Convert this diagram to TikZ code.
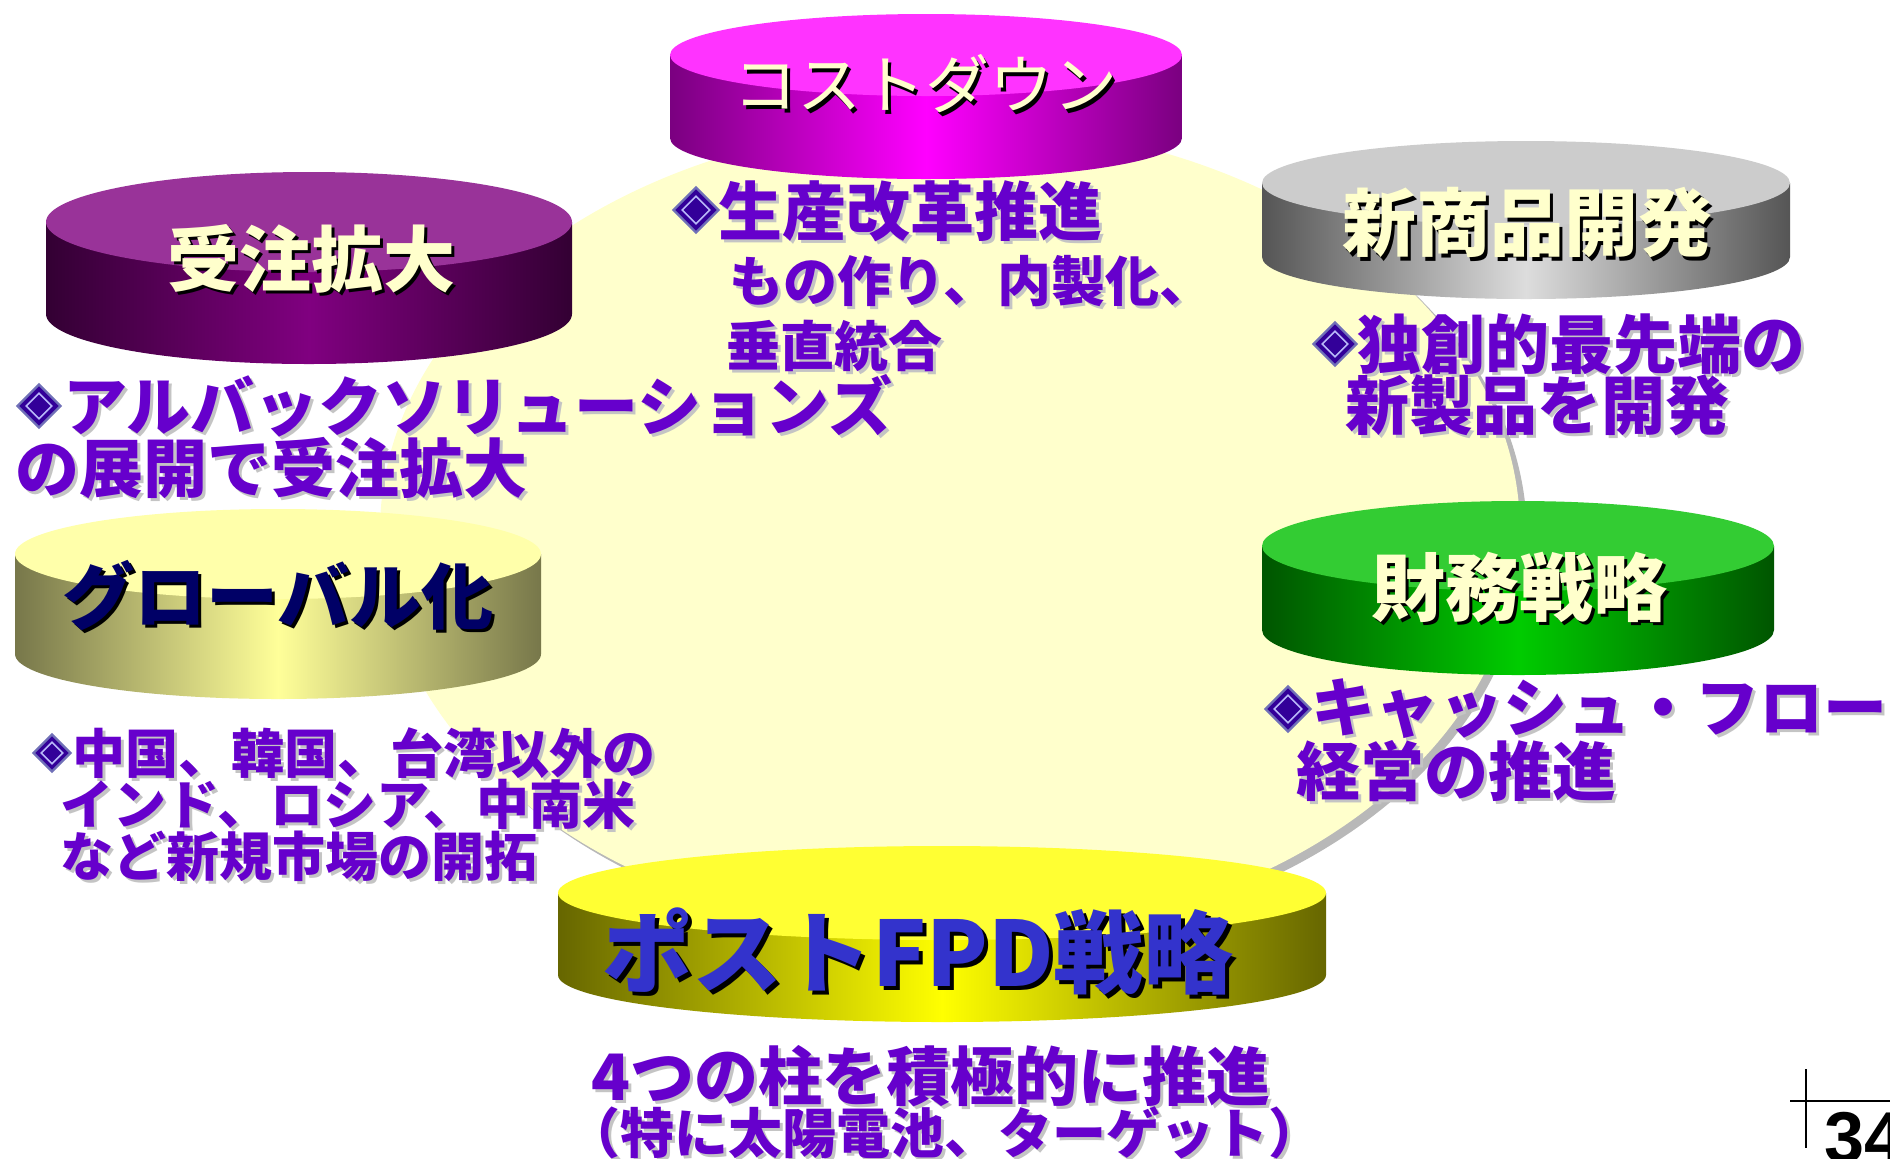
\documentclass[tikz,border=0pt]{standalone}
\usepackage{fontspec}
\newfontfamily\jp{Noto Sans CJK JP}
\newfontfamily\arl{Liberation Sans}
\usetikzlibrary{shapes.geometric,calc}
\definecolor{shd}{HTML}{B8B8B8}
\definecolor{bgy}{HTML}{FFFFCC}
\definecolor{pur}{HTML}{6600CC}
\definecolor{psh}{HTML}{C4C4C4}
\definecolor{tyl}{HTML}{FFFFCC}
\definecolor{navy}{HTML}{000066}
\definecolor{blu}{HTML}{3333CC}
\definecolor{dmdfill}{HTML}{330099}
\definecolor{dmdedge}{HTML}{7070B8}
\definecolor{dmdin}{HTML}{B8B8F8}
% cylinder colours
\definecolor{cTop}{HTML}{FF33FF}\definecolor{cEdge}{HTML}{7A0080}\definecolor{cMid}{HTML}{FF00FF}
\definecolor{jTop}{HTML}{993399}\definecolor{jEdge}{HTML}{330033}\definecolor{jMid}{HTML}{800080}
\definecolor{sTop}{HTML}{CCCCCC}\definecolor{sEdge}{HTML}{555555}\definecolor{sMid}{HTML}{DDDDDD}
\definecolor{zTop}{HTML}{33CC33}\definecolor{zEdge}{HTML}{005500}\definecolor{zMid}{HTML}{00CC00}
\definecolor{gTop}{HTML}{FFFFAA}\definecolor{gEdge}{HTML}{77774A}\definecolor{gMid}{HTML}{FFFF99}
\definecolor{pTop}{HTML}{FFFF33}\definecolor{pEdge}{HTML}{666600}\definecolor{pMid}{HTML}{FFFF00}
\tikzset{
  ttl/.style={font=\jp\bfseries\fontsize{#1}{#1}\selectfont, inner sep=0pt, text=tyl},
  ttlr/.style={font=\jp\fontsize{#1}{#1}\selectfont, inner sep=0pt, text=tyl},
  body/.style={font=\jp\bfseries\fontsize{#1}{#1}\selectfont, inner sep=0pt, anchor=west, text=pur},
  bodyc/.style={font=\jp\bfseries\fontsize{#1}{#1}\selectfont, inner sep=0pt, text=pur},
  dmdo/.style={diamond, aspect=1, inner sep=0pt, minimum size=#1, fill=dmdfill, draw=dmdedge, line width=1.2pt},
  dmdi/.style={diamond, aspect=1, inner sep=0pt, minimum size=#1, draw=dmdin, line width=0.8pt},
  mark line/.style={draw=black, line width=1pt}
}
% cx, ty, by, rx, ry, top, edge, mid
\newcommand\cyl[8]{%
  \shade[left color=#7,right color=#7,middle color=#8] (#1-#4,#2) -- (#1-#4,#3)
    arc[start angle=180,end angle=0,x radius=#4,y radius=#5] -- (#1+#4,#2) -- cycle;
  \fill[#6] (#1,#2) ellipse[x radius=#4,y radius=#5];}
% style, shadow colour, offset, name, position, text
\newcommand\stx[6]{%
  \node[#1,text=#2,xshift=#3,yshift=-#3] at (#5) {#6};
  \node[#1] (#4) at (#5) {#6};}
% name, position, outer size, inner size
\newcommand\dmd[4]{%
  \node[dmdo=#3] (#1) at (#2) {};
  \node[dmdi=#4] at (#2) {};}
\begin{document}
\begin{tikzpicture}[x=0.5pt,y=-0.5pt]
\useasboundingbox (0,0) rectangle (1890,1158);
\fill[white] (0,0) rectangle (1890,1158);
% background disc
\fill[shd] (957,537) ellipse[x radius=570,y radius=408];
\fill[bgy] (950,531) ellipse[x radius=570,y radius=408];
% cylinders
\cyl{926}{55}{138}{256}{41}{cTop}{cEdge}{cMid}
\cyl{309}{222}{314}{263}{50}{jTop}{jEdge}{jMid}
\cyl{1526}{183}{257}{264}{42}{sTop}{sEdge}{sMid}
\cyl{1518}{546}{630}{256}{45}{zTop}{zEdge}{zMid}
\cyl{278}{554}{654}{263}{45}{gTop}{gEdge}{gMid}
\cyl{942}{893}{975}{384}{47}{pTop}{pEdge}{pMid}
% titles
\stx{ttlr=32pt}{black}{1.6pt}{tcost}{925,84}{コストダウン}
\stx{ttl=36pt}{black}{1.6pt}{tjuchu}{311,259}{受注拡大}
\stx{ttl=37pt}{black}{1.6pt}{tshin}{1527,223}{新商品開発}
\stx{ttl=37pt}{black}{1.6pt}{tzaimu}{1519,587}{財務戦略}
\stx{ttl={36pt},text=navy}{black}{1.6pt}{tglobal}{278,595}{グローバル化}
\stx{ttl={45pt},text=blu}{black}{2pt}{tpost}{918,952}{ポストFPD戦略}
% bullets
\dmd{d1}{696,210}{23pt}{14pt}
\dmd{d2}{39,406}{22pt}{13pt}
\dmd{d3}{52,753}{19pt}{11pt}
\dmd{d4}{1335,344}{22pt}{13pt}
\dmd{d5}{1288,709}{23pt}{14pt}
% body texts
\stx{body=32pt}{psh}{1.5pt}{b1a}{718,211}{生産改革推進}
\stx{body=27pt}{psh}{1.5pt}{b1b}{729,281}{もの作り、内製化、}
\stx{body=27pt}{psh}{1.5pt}{b1c}{726,346}{垂直統合}
\stx{body=32pt}{psh}{1.5pt}{b2a}{63,406}{アルバックソリューションズ}
\stx{body=32pt}{psh}{1.5pt}{b2b}{15,468}{の展開で受注拡大}
\stx{body=26.5pt}{psh}{1.5pt}{b3a}{72,753}{中国、韓国、台湾以外の}
\stx{body=26.5pt}{psh}{1.5pt}{b3b}{60,804}{インド、ロシア、中南米}
\stx{body=26.5pt}{psh}{1.5pt}{b3c}{60,856}{など新規市場の開拓}
\stx{body=32pt}{psh}{1.5pt}{b4a}{1357,344}{独創的最先端の}
\stx{body=32pt}{psh}{1.5pt}{b4b}{1345,405}{新製品を開発}
\stx{body=32pt}{psh}{1.5pt}{b5a}{1311,709}{キャッシュ・フロー}
\stx{body=32pt}{psh}{1.5pt}{b5b}{1296,771}{経営の推進}
\stx{bodyc=32pt}{psh}{1.5pt}{b6a}{931,1076}{4つの柱を積極的に推進}
\stx{bodyc=27pt}{psh}{1.5pt}{b6b}{944,1133}{（特に太陽電池、ターゲット）}
% page mark
\coordinate (mv1) at (1806,1069);
\coordinate (mv2) at (1806,1148);
\coordinate (mh1) at (1790,1101);
\coordinate (mh2) at (1890,1101);
\draw[mark line] (mv1) -- (mv2);
\draw[mark line] (mh1) -- (mh2);
\node[font=\arl\bfseries\fontsize{36pt}{36pt}\selectfont, inner sep=0pt, anchor=base west] (pnum) at (1824,1162) {34};
\end{tikzpicture}
\end{document}
